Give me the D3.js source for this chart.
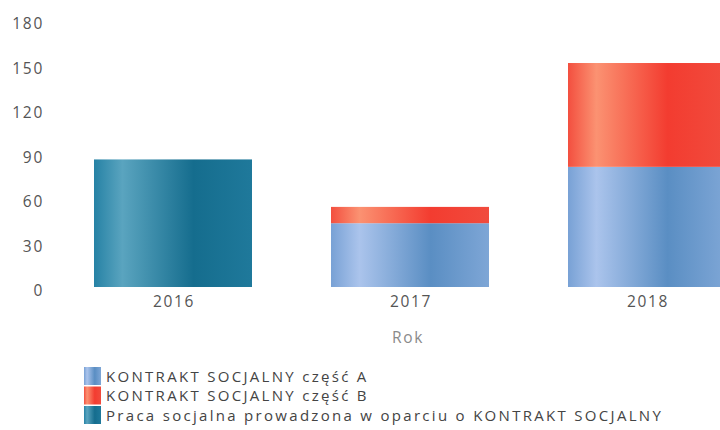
<!DOCTYPE html>
<html><head><meta charset="utf-8">
<script src="https://cdn.jsdelivr.net/npm/d3@7"></script>
<style>
html,body{margin:0;padding:0;background:#fff;}
svg{display:block;font-family:"Open Sans",sans-serif;}
</style></head>
<body>
<svg id="chart" width="720" height="430"></svg>
<script>
const years = ["2016", "2017", "2018"];
const seriesNames = ["KONTRAKT SOCJALNY część A", "KONTRAKT SOCJALNY część B", "Praca socjalna prowadzona w oparciu o KONTRAKT SOCJALNY"];
const partA = [0, 43, 81];
const partB = [0, 11, 70];
const praca = [86, 0, 0];
const yTicks = [0, 30, 60, 90, 120, 150, 180];
const axisTitle = "Rok";

const keys = ["A", "B", "C"];
const colors = {
  A: ["#78a1d5", "#abc4ec", "#5a8ec3", "#7ea6d6"],
  B: ["#f34f3f", "#fb9272", "#f33c30", "#f14b3d"],
  C: ["#2682a5", "#5aa4bf", "#156d8e", "#1f799b"]
};
const table = years.map((y, i) => ({year: y, A: partA[i], B: partB[i], C: praca[i]}));

const svg = d3.select("#chart");
const defs = svg.append("defs");
keys.forEach(k => {
  const g = defs.append("linearGradient").attr("id", "grad" + k)
    .attr("x1", "0%").attr("x2", "100%").attr("y1", "0%").attr("y2", "0%");
  const c = colors[k];
  [[0, c[0]], [0.18, c[1]], [0.63, c[2]], [1, c[3]]].forEach(([o, col]) =>
    g.append("stop").attr("offset", o).attr("stop-color", col));
});

const x = d3.scaleBand().domain(years).range([54.5, 765.5]).paddingInner(1/3).paddingOuter(1/6);
const y = d3.scaleLinear().domain([0, 180]).range([287, 20]);

const fs = 15.5, ls = 1.7;

// y axis labels
const yAxis = d3.axisLeft(y).tickValues(yTicks).tickSize(0).tickPadding(0);
const gy = svg.append("g").attr("transform", "translate(44,4)").call(yAxis);
gy.select(".domain").remove();
gy.selectAll("text").attr("font-size", fs).attr("fill", "#555").attr("letter-spacing", ls).attr("font-family", "Open Sans");

// x axis labels
const xAxis = d3.axisBottom(x).tickSize(0).tickPadding(9);
const gx = svg.append("g").attr("transform", "translate(1,287)").call(xAxis);
gx.select(".domain").remove();
gx.selectAll("text").attr("font-size", fs).attr("fill", "#555").attr("letter-spacing", ls).attr("font-family", "Open Sans");

const stack = d3.stack().keys(keys)(table);
svg.append("g").selectAll("g").data(stack).join("g")
  .attr("fill", d => "url(#grad" + d.key + ")")
  .selectAll("rect").data(d => d.filter(p => p[1] - p[0] > 0)).join("rect")
  .attr("x", d => x(d.data.year))
  .attr("width", x.bandwidth())
  .attr("y", d => y(d[1]))
  .attr("height", d => y(d[0]) - y(d[1]));

svg.append("text").attr("x", 408).attr("y", 343).attr("text-anchor", "middle")
  .attr("font-size", fs).attr("letter-spacing", ls).attr("fill", "#8a8a8a").text(axisTitle);

const lg = svg.append("g").attr("transform", "translate(84,367)");
keys.forEach((k, i) => {
  const row = lg.append("g").attr("transform", `translate(0,${i * 19.5})`);
  row.append("rect").attr("width", 17).attr("height", 18).attr("fill", "url(#grad" + k + ")");
  row.append("text").attr("x", 22).attr("y", 9.5).attr("dy", "0.35em")
    .attr("font-size", 15).attr("fill", "#444").attr("letter-spacing", 2.3).text(seriesNames[i]);
});
</script>
</body></html>
